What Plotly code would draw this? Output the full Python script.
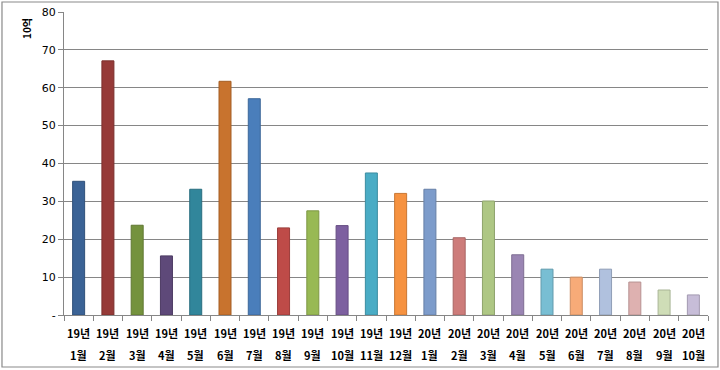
import plotly.graph_objects as go

years = ["19년"] * 12 + ["20년"] * 10
months = ["1월", "2월", "3월", "4월", "5월", "6월", "7월", "8월", "9월", "10월", "11월", "12월",
          "1월", "2월", "3월", "4월", "5월", "6월", "7월", "8월", "9월", "10월"]
values = [35.3, 67.1, 23.7, 15.6, 33.2, 61.7, 57.1, 23.0, 27.5, 23.6, 37.5, 32.1,
          33.2, 20.4, 30.1, 15.9, 12.1, 10.0, 12.1, 8.7, 6.6, 5.3]
colors = ["#3B6396", "#963A38", "#74923D", "#5E4979", "#31869B", "#C8732E",
          "#4A7EBB", "#BE4B48", "#98B954", "#7D60A0", "#4AACC5", "#F69240",
          "#7D9CCB", "#CD7C7A", "#AEC784", "#9A85B3", "#78BED3", "#F7AB78",
          "#B0C1DE", "#DEB1B0", "#CFDDB7", "#C7BDD8"]
y_ticks = [0, 10, 20, 30, 40, 50, 60, 70, 80]
y_ticktext = ["-", "10", "20", "30", "40", "50", "60", "70", "80"]
y_title = "10억"

categories = [f"{y} {m}" for y, m in zip(years, months)]


def darker(h, f=0.82):
    h = h.lstrip("#")
    r, g, b = (int(h[i:i + 2], 16) for i in (0, 2, 4))
    return "#%02x%02x%02x" % (int(r * f), int(g * f), int(b * f))


FONT = "Noto Sans CJK KR"

# plot area height in px (used only to place annotation rows / border in paper units)
H = 303.0


def py(px_from_bottom_axis):
    return px_from_bottom_axis / H


fig = go.Figure(go.Bar(
    x=categories, y=values,
    marker=dict(color=colors, line=dict(color=[darker(c) for c in colors], width=1)),
))

annotations = []
for cat, y, m in zip(categories, years, months):
    annotations.append(dict(x=cat, y=py(-18), xref="x", yref="paper", text=f"<b>{y}</b>",
                            showarrow=False, yanchor="middle", font=dict(size=11, color="#000", family=FONT)))
    annotations.append(dict(x=cat, y=py(-40), xref="x", yref="paper", text=f"<b>{m}</b>",
                            showarrow=False, yanchor="middle", font=dict(size=11, color="#000", family=FONT)))
annotations.append(dict(x=-0.0575, y=py(287), xref="paper", yref="paper", text=f"<b>{y_title}</b>",
                        textangle=-90, showarrow=False, xanchor="center", yanchor="middle",
                        font=dict(size=10, color="#000", family=FONT)))

fig.update_layout(
    width=720, height=370,
    margin=dict(l=64, r=12, t=12, b=55, autoexpand=False),
    paper_bgcolor="white", plot_bgcolor="white",
    showlegend=False,
    bargap=0.59,
    font=dict(family=FONT, size=11, color="#000"),
    annotations=annotations,
    shapes=[dict(type="rect", xref="paper", yref="paper",
                 x0=-0.0963, x1=1.0155, y0=py(-52), y1=py(313),
                 line=dict(color="#8A8A8A", width=1.2), fillcolor="rgba(0,0,0,0)", layer="below")],
)
fig.update_xaxes(
    type="category", showticklabels=False, tickson="boundaries",
    ticks="outside", ticklen=5, tickcolor="#868686",
    showline=True, linecolor="#868686", linewidth=1, showgrid=False,
)
fig.update_yaxes(
    range=[0, 80], tickvals=y_ticks, ticktext=y_ticktext,
    ticks="outside", ticklen=5, tickcolor="#868686",
    showline=True, linecolor="#868686", linewidth=1,
    showgrid=True, gridcolor="#868686", gridwidth=1, zeroline=False,
    tickfont=dict(size=11, family="DejaVu Sans"),
)

fig.write_html("out.html", config={"displayModeBar": False},
               post_script="document.body.style.margin='0';document.body.style.overflow='hidden';")
